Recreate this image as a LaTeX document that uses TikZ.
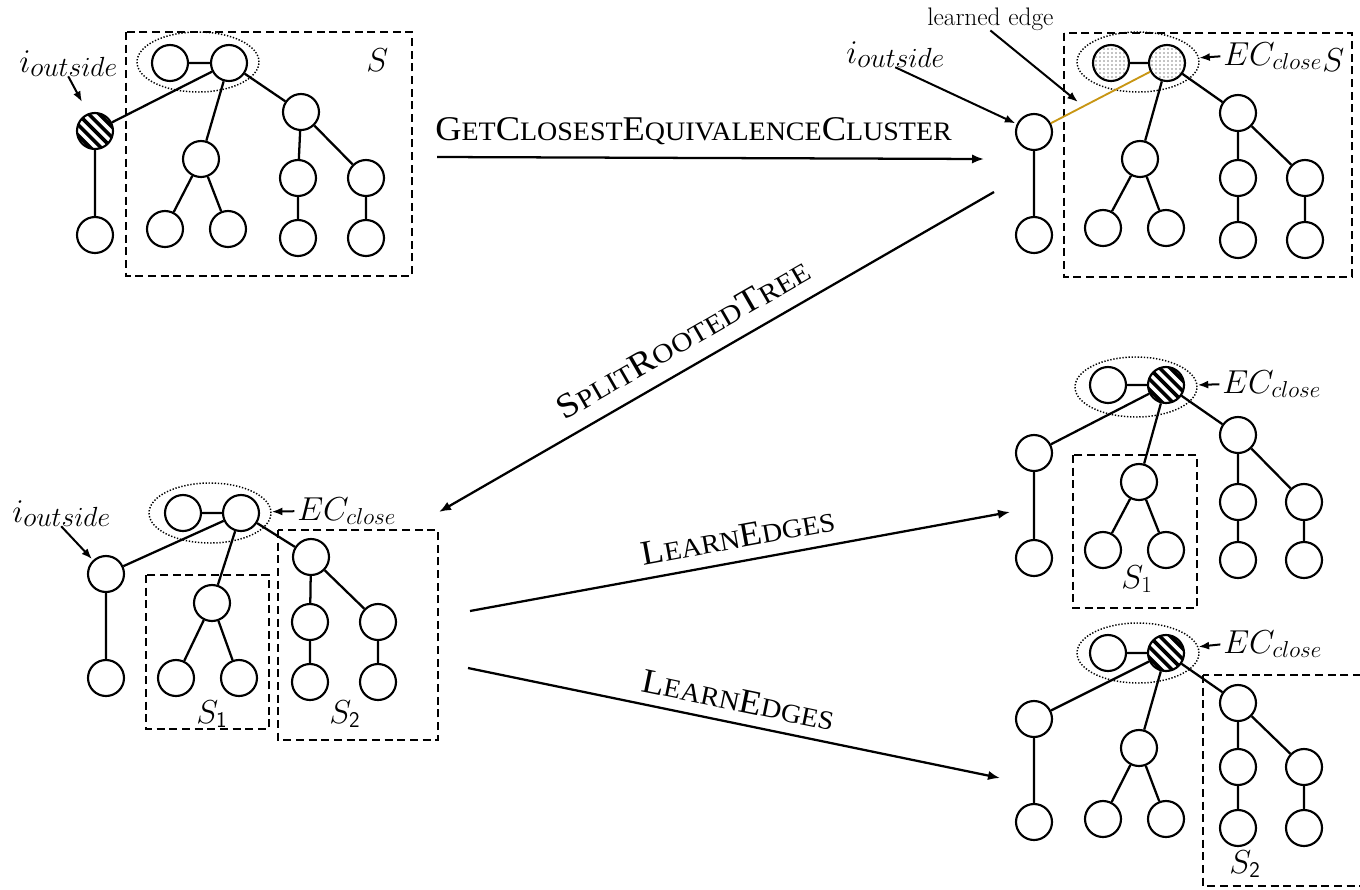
\documentclass[tikz,border=0pt]{standalone}
\usepackage{fontspec}
\usepackage{graphicx}
\newfontfamily\tms{Liberation Serif}
\usetikzlibrary{arrows.meta,patterns,shapes.geometric,calc}
\definecolor{edgegold}{RGB}{200,150,20}
\newcommand{\Bg}[1]{{\fontsize{26}{28}\selectfont #1}}
\newcommand{\Sm}[1]{{\fontsize{20}{22}\selectfont #1}}
\newcommand{\iout}{{\fontsize{27}{30}\selectfont$i$}\raisebox{-3pt}{\fontsize{20}{24}\selectfont$outside$}}
\newcommand{\treeedges}[1]{%
  \draw[ed] (L#1)--(R#1) (R#1)--(M#1) (R#1)--(Q#1) (O#1)--(OO#1)
    (M#1)--(MA#1) (M#1)--(MB#1) (Q#1)--(QA#1) (Q#1)--(QB#1)
    (QA#1)--(QC#1) (QB#1)--(QD#1);}
\begin{document}
\begin{tikzpicture}[x=0.75pt,y=-0.75pt,
  tn/.style={circle,draw,line width=1.6pt,minimum size=27pt,inner sep=0pt,fill=white},
  hatch/.style={tn,path picture={
     \foreach \d in {-4,...,4}{
       \draw[line width=2.7pt] ($(path picture bounding box.center)+(\d*5.3+30,-\d*5.3+30)$) --
                               ($(path picture bounding box.center)+(\d*5.3-30,-\d*5.3-30)$);}}},
  dotty/.style={circle,draw,line width=1.6pt,minimum size=27pt,inner sep=0pt,pattern=dots},
  ed/.style={line width=1.7pt},
  ecl/.style={ellipse,draw,line width=1.1pt,dash pattern=on 1pt off 1.3pt,minimum width=91.5pt,minimum height=45pt,inner sep=0pt},
  box/.style={draw,line width=1.2pt,dash pattern=on 6pt off 3.5pt},
  mainarr/.style={line width=1.7pt,-{Latex[length=9pt,width=7pt]}},
  larr/.style={line width=1.5pt,-{Latex[length=8pt,width=6pt]}},
  mlab/.style={font=\fontsize{24}{28}\selectfont,inner sep=0pt},
  ilab/.style={inner sep=0pt},
  alab/.style={inner sep=0pt,font=\tms},
]
\useasboundingbox (0,0) rectangle (1360,889);
\clip (0,0) rectangle (1360,889);

% ---------------- Tree A (top left) ----------------
\node[ecl] (ecA) at (198,62) {};
\draw[box] (126,32) rectangle (412,276);
\node[tn] (LA) at (170,63) {};
\node[tn] (RA) at (229,63) {};
\node[hatch] (OA) at (95,131) {};
\node[tn] (OOA) at (95,235) {};
\node[tn] (MA) at (201,159) {};
\node[tn] (MAA) at (165,229) {};
\node[tn] (MBA) at (228,229) {};
\node[tn] (QA) at (301,112) {};
\node[tn] (QAA) at (298,178) {};
\node[tn] (QBA) at (366,178) {};
\node[tn] (QCA) at (298,238) {};
\node[tn] (QDA) at (366,238) {};
\treeedges{A}
\draw[ed] (RA)--(OA);
\node[mlab,anchor=base west] (SA) at (366,71) {$S$};
\node[ilab,anchor=base west] (iA) at (19,72) {\iout};
\coordinate (iAtip) at (82,102);
\draw[larr] (iA.south) -- (iAtip);

% ---------------- Tree B (top right) ----------------
\node[ecl] (ecB) at (1138,62) {};
\draw[box] (1064,33) rectangle (1352,277);
\node[dotty] (LB) at (1111,63) {};
\node[dotty] (RB) at (1167,63) {};
\node[tn] (OB) at (1034,132) {};
\node[tn] (OOB) at (1034,235) {};
\node[tn] (MB) at (1140,159) {};
\node[tn] (MAB) at (1103,228) {};
\node[tn] (MBB) at (1166,228) {};
\node[tn] (QB) at (1238,113) {};
\node[tn] (QAB) at (1238,178) {};
\node[tn] (QBB) at (1305,178) {};
\node[tn] (QCB) at (1238,240) {};
\node[tn] (QDB) at (1305,240) {};
\treeedges{B}
\draw[line width=1.4pt,edgegold] (OB)--(RB);
\node[mlab,anchor=base west] (SB) at (1322,71) {$S$};
\node[mlab,anchor=base west] (ecBl) at (1223,65) {$EC_{close}$};
\draw[larr,shorten <=2pt] (ecBl.west) -- (ecB);
\node[ilab,anchor=base west] (iB) at (846,63) {\iout};
\draw[larr,shorten >=1pt] (iB.south) -- (OB);
\node[inner sep=0pt,anchor=base west,font=\fontsize{19}{21}\selectfont] (le) at (927,25) {learned edge};
\coordinate (leTip) at (1078,102);
\draw[larr] (le.south) -- (leTip);

% ---------------- Tree C (bottom left) ----------------
\node[ecl] (ecC) at (210,513) {};
\draw[box] (146,575) rectangle (269,729);
\draw[box] (278,530) rectangle (438,740);
\node[tn] (LC) at (183,513) {};
\node[tn] (RC) at (241,513) {};
\node[tn] (OC) at (106,574) {};
\node[tn] (OOC) at (106,678) {};
\node[tn] (MC) at (212,603) {};
\node[tn] (MAC) at (176,678) {};
\node[tn] (MBC) at (239,678) {};
\node[tn] (QC) at (311,557) {};
\node[tn] (QAC) at (310,622) {};
\node[tn] (QBC) at (378,622) {};
\node[tn] (QCC) at (310,682) {};
\node[tn] (QDC) at (378,682) {};
\treeedges{C}
\draw[ed] (RC)--(OC);
\node[mlab,anchor=base west] (ecCl) at (297,520) {$EC_{close}$};
\draw[larr,shorten <=2pt] (ecCl.west) -- (ecC);
\node[ilab,anchor=base west] (iC) at (12,522) {\iout};
\draw[larr,shorten >=1pt] (iC.south) -- (OC);
\node[mlab,anchor=base west] (S1C) at (196,723) {$S_{\mathsf{1}}$};
\node[mlab,anchor=base west] (S2C) at (329,723) {$S_{\mathsf{2}}$};

% ---------------- Tree D (bottom right, upper) ----------------
\node[ecl] (ecD) at (1136,387) {};
\draw[box] (1073,455) rectangle (1197,608);
\node[tn] (LD) at (1108,385) {};
\node[hatch] (RD) at (1166,385) {};
\node[tn] (OD) at (1034,453) {};
\node[tn] (OOD) at (1034,558) {};
\node[tn] (MD) at (1139,482) {};
\node[tn] (MAD) at (1103,550) {};
\node[tn] (MBD) at (1166,550) {};
\node[tn] (QD) at (1238,435) {};
\node[tn] (QAD) at (1238,502) {};
\node[tn] (QBD) at (1304,502) {};
\node[tn] (QCD) at (1238,560) {};
\node[tn] (QDD) at (1304,560) {};
\treeedges{D}
\draw[ed] (RD)--(OD);
\node[mlab,anchor=base west] (ecDl) at (1222,393) {$EC_{close}$};
\draw[larr,shorten <=2pt] (ecDl.west) -- (ecD);
\node[mlab,anchor=base west] (S1D) at (1121,588) {$S_1$};

% ---------------- Tree E (bottom right, lower) ----------------
\node[ecl] (ecE) at (1138,653) {};
\draw[box] (1203,675) rectangle (1375,886);
\node[tn] (LE) at (1108,653) {};
\node[hatch] (RE) at (1166,653) {};
\node[tn] (OE) at (1034,719) {};
\node[tn] (OOE) at (1034,822) {};
\node[tn] (ME) at (1139,748) {};
\node[tn] (MAE) at (1103,819) {};
\node[tn] (MBE) at (1166,819) {};
\node[tn] (QE) at (1238,703) {};
\node[tn] (QAE) at (1238,767) {};
\node[tn] (QBE) at (1304,767) {};
\node[tn] (QCE) at (1238,828) {};
\node[tn] (QDE) at (1304,828) {};
\treeedges{E}
\draw[ed] (RE)--(OE);
\node[mlab,anchor=base west] (ecEl) at (1223,653) {$EC_{close}$};
\draw[larr,shorten <=2pt] (ecEl.west) -- (ecE);
\node[mlab,anchor=base west] (S2E) at (1229,873) {$S_{\mathsf{2}}$};

% ---------------- main arrows ----------------
\coordinate (a1s) at (437,157); \coordinate (a1e) at (984,159);
\coordinate (a2s) at (994,192); \coordinate (a2e) at (439,512);
\coordinate (a3s) at (470,611); \coordinate (a3e) at (1010,512);
\coordinate (a4s) at (468,668); \coordinate (a4e) at (1000,778);
\draw[mainarr] (a1s) -- (a1e);
\draw[mainarr] (a2s) -- (a2e);
\draw[mainarr] (a3s) -- (a3e);
\draw[mainarr] (a4s) -- (a4e);
\node[alab,anchor=base west] (t1) at (435,140)
  {\scalebox{1.05}[1]{\Bg{G}\Sm{ET}\Bg{C}\Sm{LOSEST}\Bg{E}\Sm{QUIVALENCE}\Bg{C}\Sm{LUSTER}}};
\node[alab,anchor=base,rotate=30] (t2) at (689,349)
  {\scalebox{1.1}[1]{\Bg{S}\Sm{PLIT}\Bg{R}\Sm{OOTED}\Bg{T}\Sm{REE}}};
\node[alab,anchor=base,rotate=10.4] (t3) at (740,548)
  {\scalebox{1.06}[1]{\Bg{L}\Sm{EARN}\Bg{E}\Sm{DGES}}};
\node[alab,anchor=base,rotate=-11.7] (t4) at (736,711)
  {\scalebox{1.06}[1]{\Bg{L}\Sm{EARN}\Bg{E}\Sm{DGES}}};
\end{tikzpicture}
\end{document}
